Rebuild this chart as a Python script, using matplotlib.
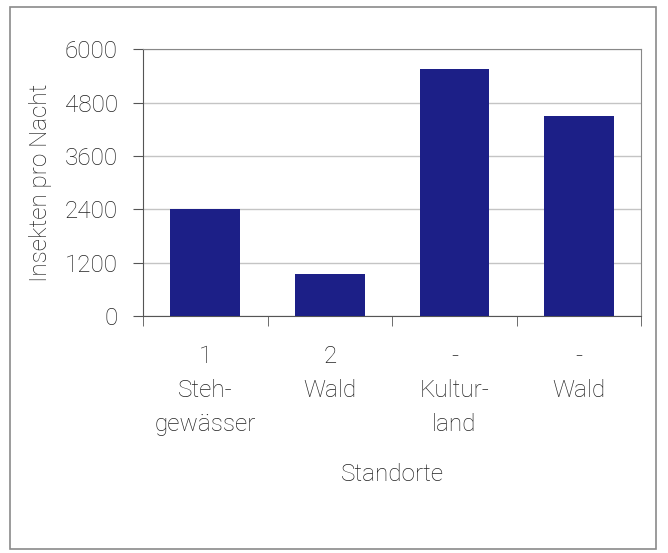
import matplotlib.pyplot as plt
import numpy as np
from matplotlib.patches import Rectangle

plt.rcParams['font.family'] = ['Roboto', 'DejaVu Sans']

standorte = ['1\nSteh-\ngewässer', '2\nWald', '-\nKultur-\nland', '-\nWald']
insekten = [2400, 950, 5550, 4500]
yticks = [0, 1200, 2400, 3600, 4800, 6000]

textcol = '#222222'
barcol = '#1c1f87'
fs = 17.5

fig = plt.figure(figsize=(6.68, 5.53), dpi=100)
ax = fig.add_axes([0.214, 0.4286, 0.746, 0.4825])

x = np.arange(len(insekten))
ax.bar(x, insekten, width=0.56, color=barcol, zorder=3)

ax.set_xlim(-0.5, len(insekten) - 0.5)
ax.set_ylim(0, 6000)
ax.set_yticks(yticks)
ax.set_yticklabels([str(v) for v in yticks], fontsize=fs, color=textcol, fontweight='light')
ax.yaxis.grid(True, color='#c4c4c4', linewidth=1, zorder=0)

ax.set_xticks(x)
ax.set_xticklabels(standorte, fontsize=fs, color=textcol, fontweight='light', linespacing=1.62, va='top')
ax.set_xticks(np.arange(-0.5, len(insekten)), minor=True)
ax.tick_params(axis='x', which='major', length=0, pad=21)
ax.tick_params(axis='x', which='minor', length=7, direction='out', color='#555555')
ax.tick_params(axis='y', length=7, direction='out', color='#555555', pad=11)

for s in ['left', 'bottom']:
    ax.spines[s].set_color('#555555')
for s in ['top', 'right']:
    ax.spines[s].set_color('#888888')

ax.set_ylabel('Insekten pro Nacht', fontsize=fs, color=textcol, fontweight='light', labelpad=9)
ax.set_xlabel('Standorte', fontsize=fs, color=textcol, fontweight='light', labelpad=19)

# outer frame
fig.patches.append(Rectangle((10 / 668, 4 / 553), 646 / 668, 542 / 553, transform=fig.transFigure,
                             fill=False, edgecolor='#8a8a8a', linewidth=1.2))

fig.savefig('out.png', dpi=100)
